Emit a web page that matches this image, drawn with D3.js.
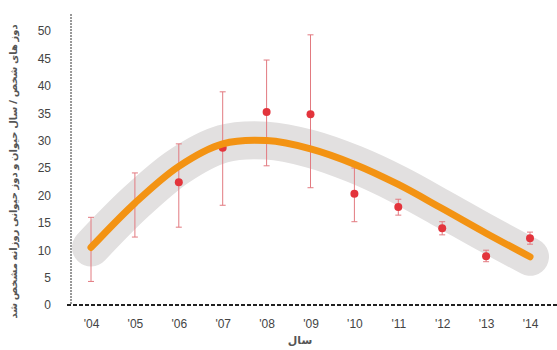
<!DOCTYPE html>
<html>
<head>
<meta charset="utf-8">
<script src="https://cdn.jsdelivr.net/npm/d3@7"></script>
<style>
  body { margin: 0; background: #fff; }
  svg { display: block; font-family: "Open Sans", "Noto Sans", sans-serif; }
  .tick text { fill: #444; font-size: 12px; }
</style>
</head>
<body>
<div id="chart"></div>
<script>
// values (null = mean hidden under the trend line)
const years = [2004, 2005, 2006, 2007, 2008, 2009, 2010, 2011, 2012, 2013, 2014];
const yearLabels = ["'04", "'05", "'06", "'07", "'08", "'09", "'10", "'11", "'12", "'13", "'14"];
const observed = [null, null, 22.4, 28.7, 35.2, 34.8, 20.3, 17.9, 14.0, 8.9, 12.2];
const errLow = [4.3, 12.4, 14.2, 18.2, 25.4, 21.4, 15.2, 16.4, 12.8, 7.9, 11.1];
const errHigh = [16.0, 24.1, 29.4, 38.9, 44.7, 49.3, 25.0, 19.3, 15.2, 10.0, 13.3];
const trend = [10.5, 18.6, 25.3, 29.4, 30.0, 28.5, 25.7, 22.0, 17.6, 13.1, 8.8];
const yTicks = [0, 5, 10, 15, 20, 25, 30, 35, 40, 45, 50];

const yTitle = 'دوز های شخص / سال حیوان و دوز حیوانی روزانه مشخص شد';
const xTitle = 'سال';

const width = 557, height = 350;
const margin = { top: 31, right: 27, bottom: 45, left: 91 };

const svg = d3.select('#chart').append('svg')
  .attr('width', width)
  .attr('height', height);

const x = d3.scaleLinear()
  .domain([2004, 2014])
  .range([margin.left, width - margin.right]);

const y = d3.scaleLinear()
  .domain([0, 50])
  .range([height - margin.bottom, margin.top]);

// axis lines
svg.append('line')
  .attr('x1', 71).attr('x2', 71)
  .attr('y1', 14).attr('y2', y(0))
  .attr('stroke', '#333')
  .attr('stroke-width', 1)
  .attr('stroke-dasharray', '2,1');

svg.append('line')
  .attr('x1', 67).attr('x2', width)
  .attr('y1', y(0)).attr('y2', y(0))
  .attr('stroke', '#222')
  .attr('stroke-width', 2)
  .attr('stroke-dasharray', '4,2');

// y axis ticks (labels only)
const yAxis = d3.axisLeft(y)
  .tickValues(yTicks)
  .tickSize(0)
  .tickPadding(0);

svg.append('g')
  .attr('transform', 'translate(51,0)')
  .call(yAxis)
  .call(g => g.select('.domain').remove());

const xAxis = d3.axisBottom(x)
  .tickValues(years)
  .tickFormat((d, i) => yearLabels[i])
  .tickSize(0)
  .tickPadding(14);

svg.append('g')
  .attr('transform', 'translate(0,' + y(0) + ')')
  .call(xAxis)
  .call(g => g.select('.domain').remove());

// trend band + line
const line = d3.line()
  .x((d, i) => x(years[i]))
  .y(d => y(d))
  .curve(d3.curveCatmullRom.alpha(0.5));

svg.append('path')
  .attr('d', line(trend))
  .attr('fill', 'none')
  .attr('stroke', '#e2e0e0')
  .attr('stroke-width', 38)
  .attr('stroke-linecap', 'round')
  .attr('stroke-linejoin', 'round');

// error bars
const bars = svg.append('g').attr('class', 'errors');
years.forEach((yr, i) => {
  const cx = x(yr);
  bars.append('line')
    .attr('x1', cx).attr('x2', cx)
    .attr('y1', y(errLow[i])).attr('y2', y(errHigh[i]))
    .attr('stroke', '#e27a80').attr('stroke-width', 1);
  [errLow[i], errHigh[i]].forEach(v => {
    bars.append('line')
      .attr('x1', cx - 3).attr('x2', cx + 3)
      .attr('y1', y(v)).attr('y2', y(v))
      .attr('stroke', '#e27a80').attr('stroke-width', 1);
  });
});

// points
svg.append('g').selectAll('circle')
  .data(years.map((yr, i) => ({ yr, v: observed[i] })).filter(d => d.v !== null))
  .join('circle')
  .attr('cx', d => x(d.yr))
  .attr('cy', d => y(d.v))
  .attr('r', 4)
  .attr('fill', '#e3343c');

svg.append('path')
  .attr('d', line(trend))
  .attr('fill', 'none')
  .attr('stroke', '#f39313')
  .attr('stroke-width', 7)
  .attr('stroke-linecap', 'round')
  .attr('stroke-linejoin', 'round');

// titles
svg.append('text')
  .attr('transform', 'translate(17,' + ((y(0) + 30) / 2 + 4) + ') rotate(-90)')
  .attr('text-anchor', 'middle')
  .attr('direction', 'rtl')
  .attr('fill', '#555')
  .attr('font-size', 10)
  .attr('font-weight', 'bold')
  .attr('font-family', '"Noto Sans", "DejaVu Sans", sans-serif')
  .text(yTitle);

svg.append('text')
  .attr('x', 300)
  .attr('y', 344)
  .attr('text-anchor', 'middle')
  .attr('direction', 'rtl')
  .attr('fill', '#555')
  .attr('font-size', 11)
  .attr('font-weight', 'bold')
  .attr('font-family', '"Noto Sans", "DejaVu Sans", sans-serif')
  .text(xTitle);
</script>
</body>
</html>
